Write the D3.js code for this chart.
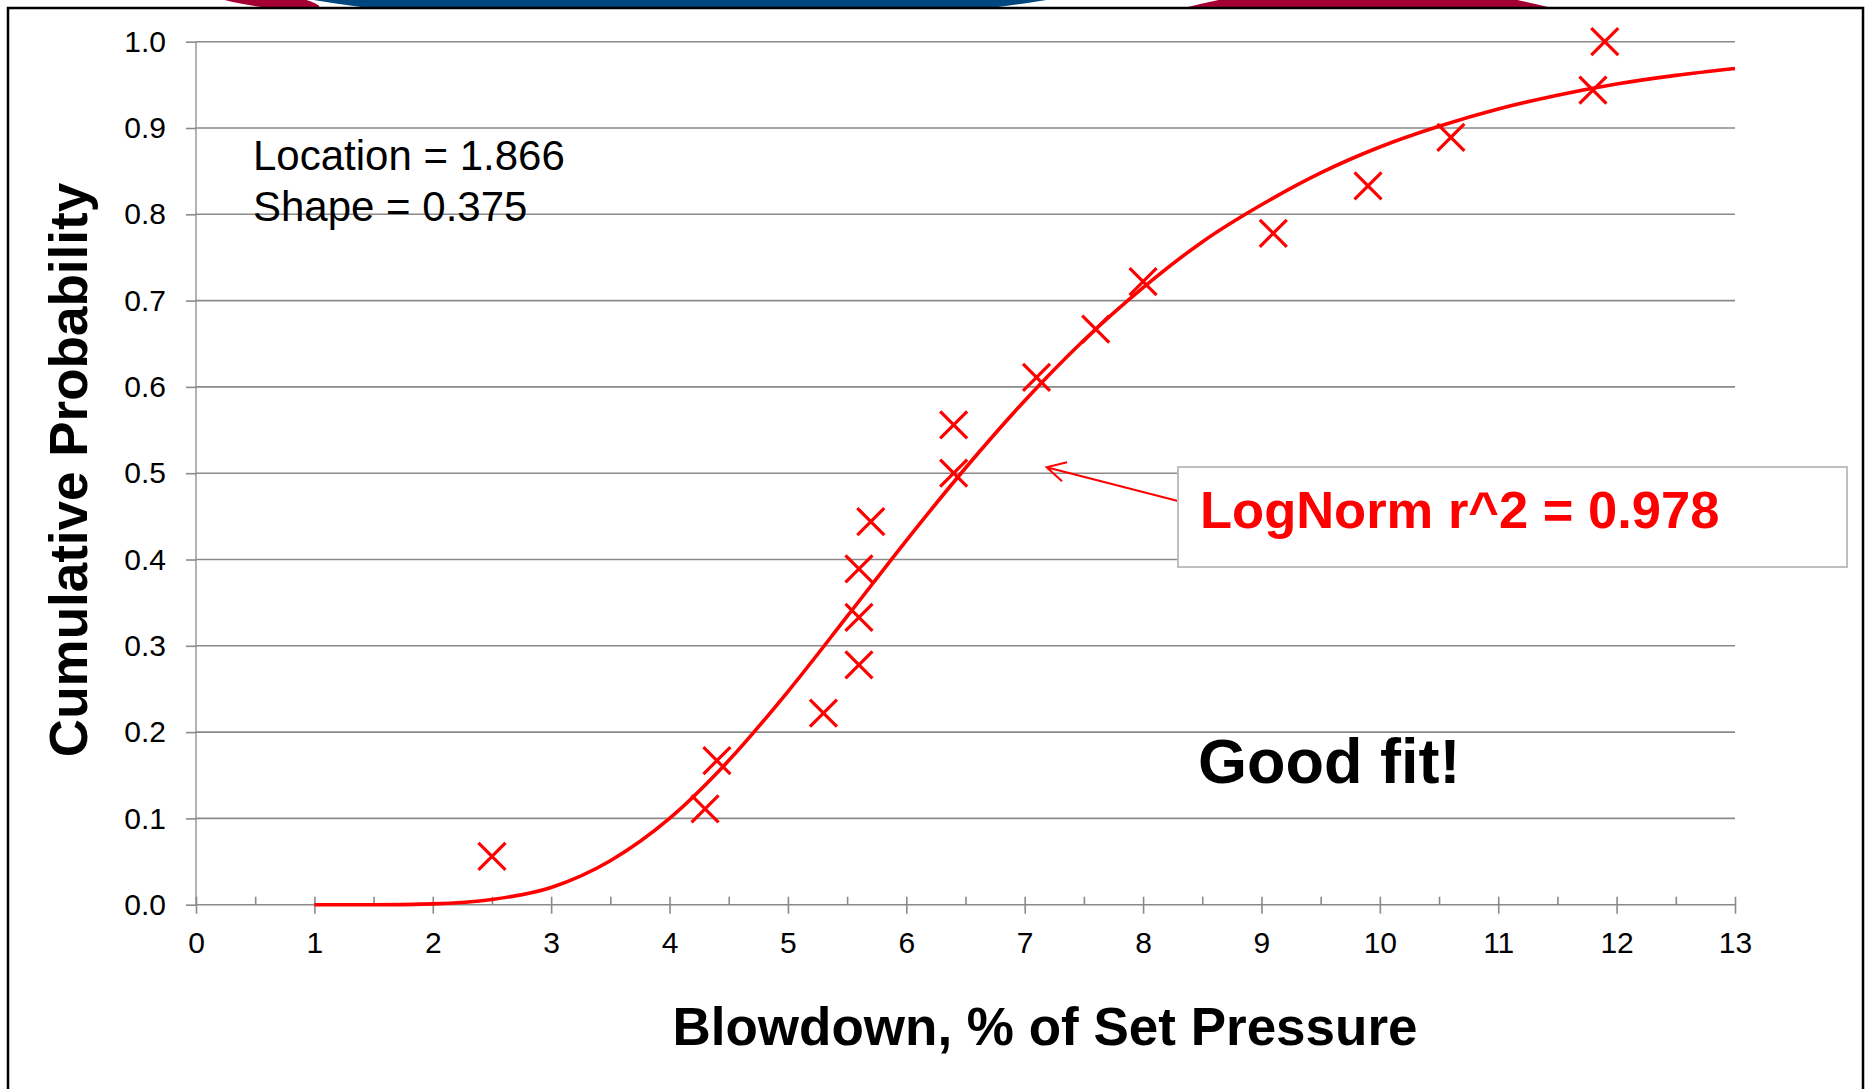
<!DOCTYPE html>
<head>
<meta charset="utf-8">
<title>Blowdown LogNormal Fit</title>
<script src="https://d3js.org/d3.v7.min.js"></script>
<style>
  body { margin: 0; background: #fff; }
  svg { display: block; font-family: Arial, "Liberation Sans", sans-serif; }
</style>
</head>
<body>
<div id="chart"></div>
<script>
//--------------------------- DATA ---------------------------//
// observed blowdown values (% of set pressure) and their cumulative probability
const blowdown = [2.5, 4.3, 4.4, 5.3, 5.6, 5.6, 5.6, 5.7, 6.4, 6.4, 7.1, 7.6, 8.0, 9.1, 9.9, 10.6, 11.8, 11.9];
const cumProb  = [0.056, 0.111, 0.167, 0.222, 0.278, 0.333, 0.389, 0.444, 0.500, 0.556,
                  0.611, 0.667, 0.722, 0.778, 0.833, 0.889, 0.944, 1.000];

// fitted lognormal curve
const fitX = [1, 1.5, 2, 2.5, 3, 3.5, 4, 4.5, 5, 5.5, 6, 6.5, 7, 7.5, 8, 8.5, 9, 9.5, 10, 10.5, 11, 11.5, 12, 12.5, 13];
const fitY = [0.000, 0.000, 0.001, 0.006, 0.020, 0.051, 0.100, 0.167, 0.247, 0.334, 0.422, 0.506, 0.584,
              0.654, 0.715, 0.768, 0.811, 0.848, 0.878, 0.902, 0.922, 0.938, 0.951, 0.961, 0.969];

const xTicks = [0, 1, 2, 3, 4, 5, 6, 7, 8, 9, 10, 11, 12, 13];
const xMinor = [0.5, 1.5, 2.5, 3.5, 4.5, 5.5, 6.5, 7.5, 8.5, 9.5, 10.5, 11.5, 12.5];
const yTicks = [0, 0.1, 0.2, 0.3, 0.4, 0.5, 0.6, 0.7, 0.8, 0.9, 1.0];

const fitLabel = "LogNorm r^2 = 0.978";
const paramLabels = ["Location = 1.866", "Shape = 0.375"];

//--------------------------- SVG ----------------------------//
const W = 1867, H = 1089;
const svg = d3.select("#chart").append("svg")
    .attr("width", W)
    .attr("height", H);

// slide decoration peeking over the frame (clipped to the strip above it)
svg.append("clipPath")
    .attr("id", "topstrip")
  .append("rect")
    .attr("x", 0).attr("y", 0).attr("width", W).attr("height", 9);

const deco = svg.append("g").attr("clip-path", "url(#topstrip)");
deco.append("ellipse")
    .attr("cx", 1368).attr("cy", 736).attr("rx", 751).attr("ry", 751)
    .attr("fill", "#a50034");
deco.append("ellipse")
    .attr("cx", 680).attr("cy", -173).attr("rx", 730).attr("ry", 200)
    .attr("fill", "#00467f");
deco.append("ellipse")
    .attr("transform", "translate(262,-1) rotate(8)")
    .attr("rx", 58).attr("ry", 8)
    .attr("fill", "#a50034");

// slide frame
svg.append("rect")
    .attr("x", 8).attr("y", 8)
    .attr("width", 1855).attr("height", 1200)
    .attr("fill", "#fff")
    .attr("stroke", "#000")
    .attr("stroke-width", 2.5);

//-------------------------- SCALES --------------------------//
const x = d3.scaleLinear().domain([0, 13]).range([196, 1735]);
const y = d3.scaleLinear().domain([0, 1]).range([904.7, 41.7]);

const gridColor = "#8a8a8a";

// horizontal gridlines
svg.append("g")
  .selectAll("line")
  .data(yTicks)
  .join("line")
    .attr("x1", x(0)).attr("x2", x(13))
    .attr("y1", d => y(d)).attr("y2", d => y(d))
    .attr("stroke", gridColor)
    .attr("stroke-width", 1.6);

//--------------------------- AXES ---------------------------//
const yAxis = d3.axisLeft(y)
    .tickValues(yTicks)
    .tickFormat(d3.format(".1f"))
    .tickSize(10)
    .tickPadding(20);

const gy = svg.append("g")
    .attr("transform", "translate(" + x(0) + ",0)")
    .call(yAxis);
gy.select(".domain").attr("stroke", gridColor).attr("stroke-width", 1.3)
    .attr("d", "M0," + y(0) + "V" + y(1));
gy.selectAll(".tick line").attr("stroke", gridColor).attr("stroke-width", 1.6);
gy.selectAll(".tick text")
    .attr("fill", "#000")
    .style("font-size", "30px")
    .style("font-family", "Arial, 'Liberation Sans', sans-serif");

const xAxis = d3.axisBottom(x)
    .tickValues(xTicks)
    .tickFormat(d3.format("d"))
    .tickSize(8);

const gx = svg.append("g")
    .attr("transform", "translate(0," + y(0) + ")")
    .call(xAxis);
gx.select(".domain").remove();
gx.selectAll(".tick line")
    .attr("y1", -8).attr("y2", 9)
    .attr("stroke", gridColor).attr("stroke-width", 1.6);
gx.selectAll(".tick text")
    .attr("y", 27)
    .attr("dy", "0.71em")
    .attr("fill", "#000")
    .style("font-size", "30px")
    .style("font-family", "Arial, 'Liberation Sans', sans-serif");

// minor ticks, inside only
svg.append("g")
    .attr("transform", "translate(0," + y(0) + ")")
    .call(d3.axisBottom(x).tickValues(xMinor).tickSize(-8).tickFormat(""))
    .call(g => g.select(".domain").remove())
    .selectAll(".tick line").attr("stroke", gridColor).attr("stroke-width", 1.6);

//--------------------------- FIT ----------------------------//
const fit = fitX.map((v, i) => ({x: v, y: fitY[i]}));
const line = d3.line()
    .x(d => x(d.x))
    .y(d => y(d.y))
    .curve(d3.curveMonotoneX);

svg.append("path")
    .datum(fit)
    .attr("d", line)
    .attr("fill", "none")
    .attr("stroke", "#ff0000")
    .attr("stroke-width", 3.6);

//-------------------------- POINTS --------------------------//
const pts = blowdown.map((v, i) => ({x: v, y: cumProb[i]}));
const s = 13.5;
svg.append("g")
  .selectAll("path")
  .data(pts)
  .join("path")
    .attr("d", d => {
      const cx = x(d.x), cy = y(d.y);
      return "M" + (cx - s) + "," + (cy - s) + "L" + (cx + s) + "," + (cy + s) +
             "M" + (cx - s) + "," + (cy + s) + "L" + (cx + s) + "," + (cy - s);
    })
    .attr("fill", "none")
    .attr("stroke", "#ff0000")
    .attr("stroke-width", 3.2);

//------------------------ ANNOTATIONS -----------------------//
svg.append("g")
  .selectAll("text")
  .data(paramLabels)
  .join("text")
    .attr("x", 253)
    .attr("y", (d, i) => 170 + i * 51)
    .style("font-size", "42px")
    .attr("fill", "#000")
    .text(d => d);

// arrow from the r^2 box to the curve
const tip = [x(7.185), y(0.507)];
const tail = [1178, 501];
const ang = Math.atan2(tail[1] - tip[1], tail[0] - tip[0]);
const armLen = 21, armAng = 28 * Math.PI / 180;
const arm1 = [tip[0] + armLen * Math.cos(ang - armAng), tip[1] + armLen * Math.sin(ang - armAng)];
const arm2 = [tip[0] + armLen * Math.cos(ang + armAng), tip[1] + armLen * Math.sin(ang + armAng)];
svg.append("path")
    .attr("d", "M" + tail + "L" + tip + "M" + arm1 + "L" + tip + "L" + arm2)
    .attr("fill", "none")
    .attr("stroke", "#ff0000")
    .attr("stroke-width", 2)
    .attr("stroke-linejoin", "miter");

svg.append("rect")
    .attr("x", 1178).attr("y", 467)
    .attr("width", 669).attr("height", 100)
    .attr("fill", "#fff")
    .attr("stroke", "#bfbfbf")
    .attr("stroke-width", 2);

svg.append("text")
    .attr("x", 1200).attr("y", 528)
    .attr("fill", "#ff0000")
    .style("font-size", "52.5px")
    .style("font-weight", "bold")
    .text(fitLabel);

svg.append("text")
    .attr("x", 1198).attr("y", 783)
    .attr("fill", "#000")
    .style("font-size", "63px")
    .style("font-weight", "bold")
    .text("Good fit!");

//-------------------------- TITLES --------------------------//
svg.append("text")
    .attr("transform", "translate(87,470) rotate(-90)")
    .attr("text-anchor", "middle")
    .attr("fill", "#000")
    .style("font-size", "53px")
    .style("font-weight", "bold")
    .text("Cumulative Probability");

svg.append("text")
    .attr("x", 1045).attr("y", 1045)
    .attr("text-anchor", "middle")
    .attr("fill", "#000")
    .style("font-size", "53px")
    .style("font-weight", "bold")
    .text("Blowdown, % of Set Pressure");
</script>
</body>
